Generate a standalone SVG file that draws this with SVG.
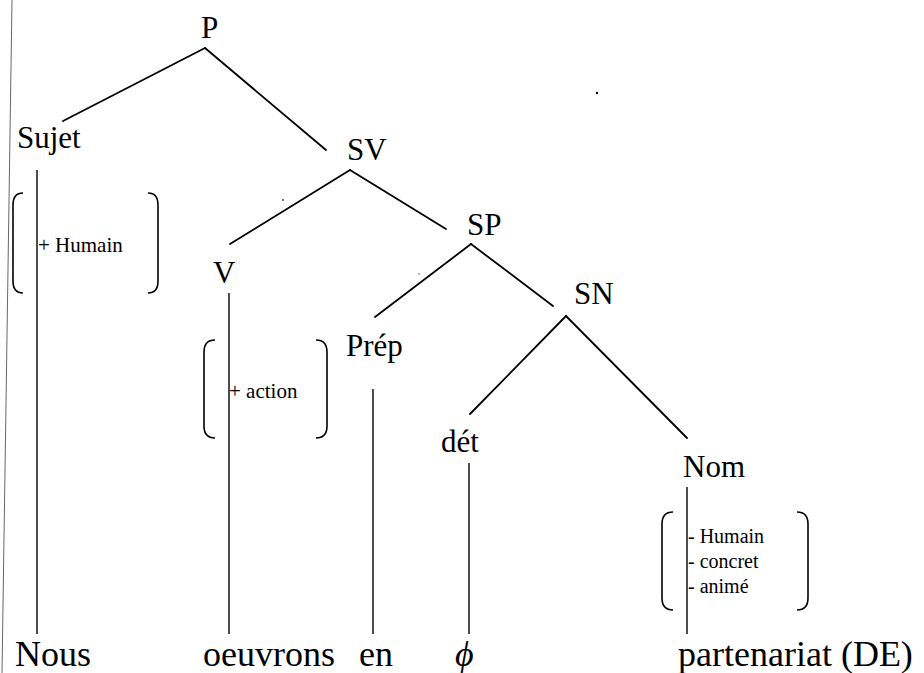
<svg xmlns="http://www.w3.org/2000/svg" width="924" height="673" viewBox="0 0 924 673" font-family="Liberation Serif, Times New Roman, Times, serif">
<style>
.lbl{font-size:31px}
.word{font-size:36px}
.feat{font-size:21px}
.feat2{font-size:20px}
.edge{stroke:#000;stroke-width:1.8;fill:none;stroke-linecap:round}
.stem{stroke:#000;stroke-width:1.4;fill:none}
.brk{stroke:#000;stroke-width:1.6;fill:none}
</style>
<rect width="924" height="673" fill="#fff"/>
<line x1="12" y1="0" x2="2" y2="673" stroke="#666" stroke-width="1"/>
<circle cx="597" cy="93" r="1.2" fill="#000"/>
<circle cx="283" cy="200" r="0.9" fill="#333"/>
<circle cx="419" cy="274" r="0.8" fill="#555"/>
<g id="connectors">
<line class="edge" x1="205" y1="48" x2="63" y2="121"/>
<line class="edge" x1="205" y1="48" x2="326" y2="150"/>
<line class="edge" x1="350" y1="170" x2="230" y2="244"/>
<line class="edge" x1="350" y1="170" x2="446" y2="229"/>
<line class="edge" x1="471" y1="244" x2="375" y2="317"/>
<line class="edge" x1="471" y1="244" x2="553" y2="306"/>
<line class="edge" x1="566" y1="316" x2="470" y2="414"/>
<line class="edge" x1="566" y1="316" x2="687" y2="438"/>
<line class="stem" x1="37" y1="170" x2="37" y2="634"/>
<line class="stem" x1="229" y1="293" x2="229" y2="634"/>
<line class="stem" x1="373" y1="389" x2="373" y2="634"/>
<line class="stem" x1="469" y1="463" x2="469" y2="634"/>
<line class="stem" x1="687" y1="487" x2="687" y2="634"/>
</g>
<g id="P"><text class="lbl" x="201" y="38" font-family="Liberation Serif">P</text></g>
<g id="Sujet">
<text class="lbl" x="17" y="148" font-family="Liberation Serif">Sujet</text>
<path class="brk" d="M23,193 Q13,193 13,205 L13,281 Q13,293 23,293"/>
<path class="brk" d="M148,193 Q158,193 158,205 L158,281 Q158,293 148,293"/>
<text class="feat" x="38" y="252" font-family="Liberation Serif">+ Humain</text>
</g>
<g id="SV"><text class="lbl" x="347" y="160" font-family="Liberation Serif">SV</text></g>
<g id="V">
<text class="lbl" x="213" y="283" font-family="Liberation Serif">V</text>
<path class="brk" d="M215,340 Q204,340 204,352 L204,426 Q204,438 215,438"/>
<path class="brk" d="M316,340 Q327,340 327,352 L327,426 Q327,438 316,438"/>
<text class="feat" x="229" y="398" font-family="Liberation Serif">+ action</text>
</g>
<g id="SP"><text class="lbl" x="467" y="235" font-family="Liberation Serif">SP</text></g>
<g id="Prep"><text class="lbl" x="346" y="356" font-family="Liberation Serif">Prép</text></g>
<g id="SN"><text class="lbl" x="574" y="304" font-family="Liberation Serif">SN</text></g>
<g id="det"><text class="lbl" x="441" y="452" font-family="Liberation Serif">dét</text></g>
<g id="Nom">
<text class="lbl" x="683" y="477" font-family="Liberation Serif">Nom</text>
<path class="brk" d="M673,512 Q662,512 662,524 L662,598 Q662,610 673,610"/>
<path class="brk" d="M797,512 Q808,512 808,524 L808,598 Q808,610 797,610"/>
<text class="feat2" x="688" y="543" font-family="Liberation Serif">- Humain</text>
<text class="feat2" x="688" y="568" font-family="Liberation Serif">- concret</text>
<text class="feat2" x="688" y="593" font-family="Liberation Serif">- animé</text>
</g>
<g id="words">
<text class="word" x="15" y="666" font-family="Liberation Serif">Nous</text>
<text class="word" x="203" y="666" font-family="Liberation Serif">oeuvrons</text>
<text class="word" x="359" y="666" font-family="Liberation Serif">en</text>
<text class="word" x="455" y="666" font-style="italic" font-family="Liberation Serif">ϕ</text>
<text class="word" x="678" y="666" font-family="Liberation Serif">partenariat (DE)</text>
</g>
</svg>
